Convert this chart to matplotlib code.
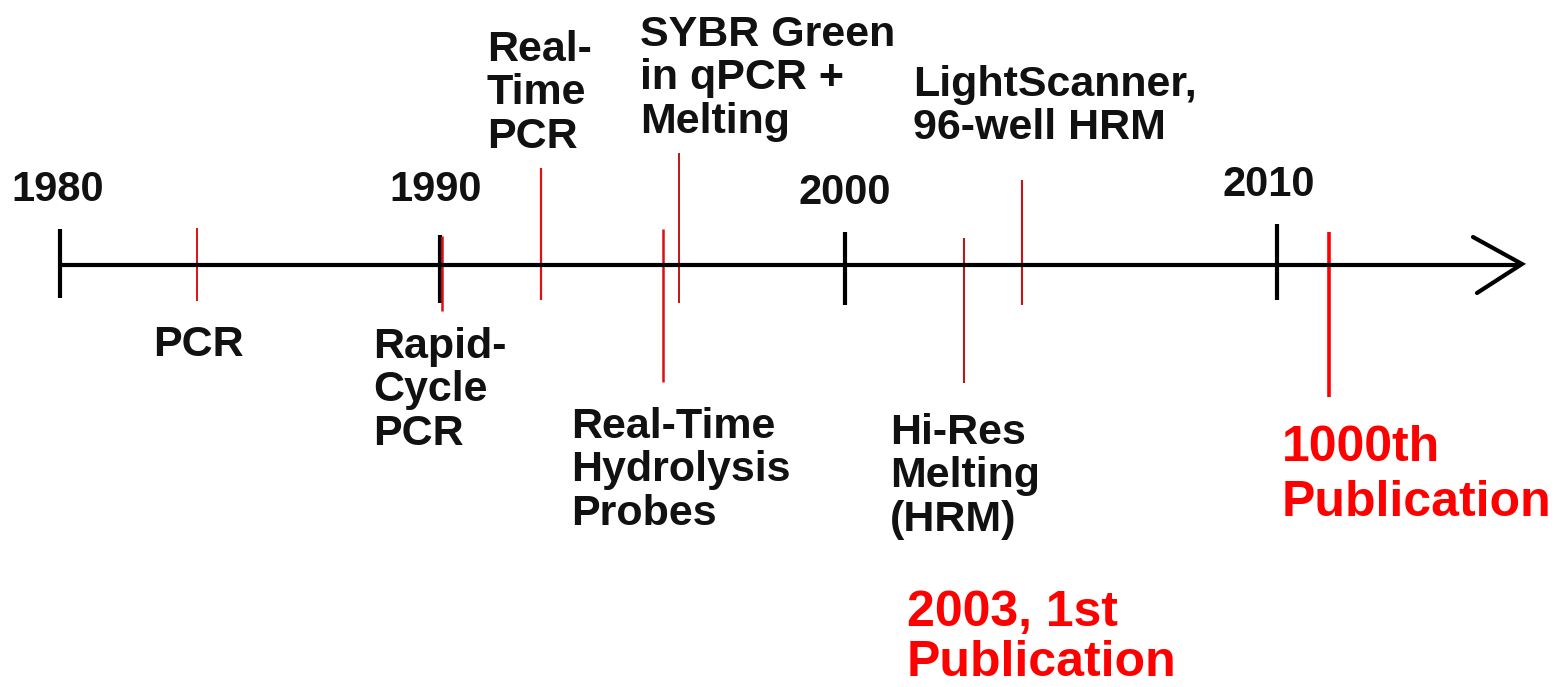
import numpy as np
import matplotlib
matplotlib.use("Agg")
import matplotlib.pyplot as plt

# ── Data ──
decades = [1980, 1990, 2000, 2010]
events = ["PCR", "Rapid-Cycle PCR", "Real-Time PCR", "Real-Time Hydrolysis Probes",
          "SYBR Green in qPCR + Melting", "Hi-Res Melting (HRM)",
          "LightScanner, 96-well HRM", "1000th Publication"]
event_years = [1983.6, 1990.05, 1992.5, 1995.5, 1995.9, 2002.75, 2004.1, 2011.2]
labels = ["PCR", "Rapid-\nCycle\nPCR", "Real-\nTime\nPCR", "Real-Time\nHydrolysis\nProbes",
          "SYBR Green\nin qPCR +\nMelting", "Hi-Res\nMelting\n(HRM)",
          "LightScanner,\n96-well HRM", "1000th\nPublication"]
note = "2003, 1st\nPublication"

# ── Hand-drawn axis: decade spacing is uneven in the original ──
YR_K = [1970, 1980, 1990, 2000, 2010, 2020]
PX_K = [-320, 60, 440, 845, 1277, 1709]


def fwd(x):
    return np.interp(x, YR_K, PX_K)


def inv(p):
    return np.interp(p, PX_K, YR_K)


W, H = 1559, 687
fig = plt.figure(figsize=(W / 100, H / 100), dpi=100)
fig.patch.set_facecolor("white")

ax = fig.add_axes([0, 0, 1, 1])
ax.set_xscale("function", functions=(fwd, inv))
ax.set_xlim(inv(0), inv(W))
ax.set_ylim(H, 0)
ax.axis("off")

lay = fig.add_axes([0, 0, 1, 1], sharey=ax)
lay.set_xlim(0, W)
lay.axis("off")
lay.patch.set_alpha(0)

FONT = "Liberation Sans"
AXIS_Y = 265
INK = "#111111"

# main line + open arrow head
lay.plot([60, 1520], [AXIS_Y, AXIS_Y], color="black", lw=3.0, solid_capstyle="butt")
lay.plot([1473, 1522, 1477], [237, 264, 293], color="black", lw=3.0,
         solid_capstyle="round", solid_joinstyle="miter")

# decade ticks
tick_span = [(229, 298), (235, 303), (232, 305), (224, 300)]
for yr, (t, b) in zip(decades, tick_span):
    ax.vlines(yr, t, b, color="black", lw=3.0)
tick_lab_xy = [(58, 190), (436, 190), (845, 193), (1269, 185)]
for yr, (lx, ly) in zip(decades, tick_lab_xy):
    lay.text(lx, ly, str(yr), ha="center", va="center", fontsize=30,
             fontweight="bold", family=FONT, color=INK)

# event marks
line_span = [(228, 301), (236, 311), (168, 300), (229, 382),
             (153, 303), (238, 383), (180, 305), (232, 397)]
line_col = ["#e01010", "#e01010", "#e01010", "#d81010",
            "#c41414", "#b81818", "#c41414", "#ff0000"]
line_w = [1.4, 1.8, 1.6, 1.8, 1.4, 1.5, 1.5, 2.6]
for yr, (t, b), c, w in zip(event_years, line_span, line_col, line_w):
    ax.vlines(yr, t, b, color=c, lw=w)

# event labels (left, top) in pixel layout
lab_xy = [(153, 325), (373, 327), (487, 30), (571, 407),
          (640, 15), (890, 413), (913, 65), (1282, 425)]
for i, (txt, (lx, ly)) in enumerate(zip(labels, lab_xy)):
    red = i == len(labels) - 1
    lay.text(lx, ly, txt, ha="left", va="top", fontsize=36 if red else 31,
             fontweight="bold", family=FONT, color="#ff0000" if red else INK,
             linespacing=1.24 if red else 1.11)

lay.text(907, 590, note, ha="left", va="top", fontsize=36, fontweight="bold",
         family=FONT, color="#ff0000", linespacing=1.1)

fig.savefig("out.png", dpi=100, facecolor="white")
plt.close(fig)
